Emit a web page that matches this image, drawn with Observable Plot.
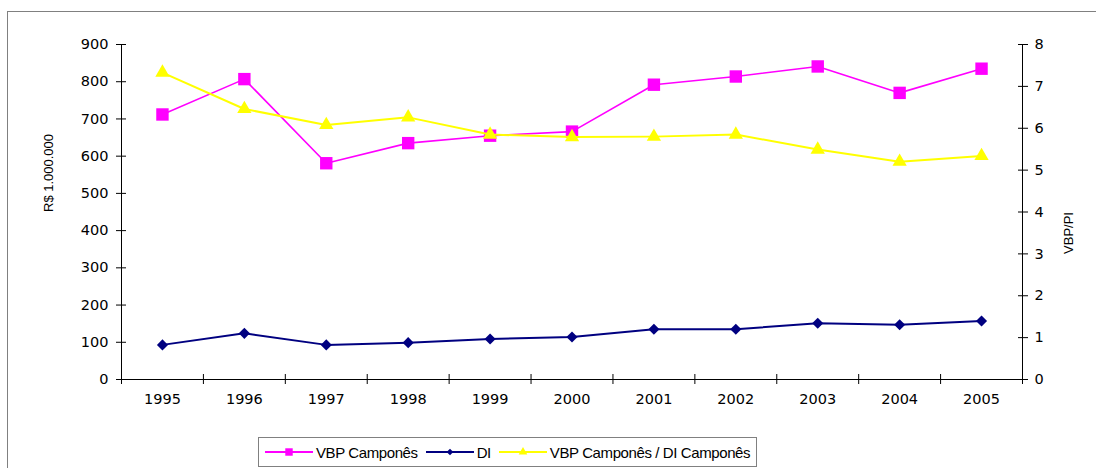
<!DOCTYPE html>
<html><head><meta charset="utf-8">
<script src="https://cdn.jsdelivr.net/npm/d3@7"></script>
<script src="https://cdn.jsdelivr.net/npm/@observablehq/plot@0.6"></script>
<style>
body{margin:0;background:#fff;overflow:hidden;font-family:"Liberation Sans",Arial,sans-serif;}
#frame{position:absolute;left:7px;top:11px;width:1200px;height:600px;border:1.5px solid #808080;}
#chart{position:absolute;left:0;top:0;width:1096px;height:425px;}
#chart svg{position:absolute;left:0;top:0;}
#legend{position:absolute;left:258px;top:437px;width:497px;height:28px;border:1.5px solid #808080;background:#fff;display:flex;align-items:center;font-size:15px;color:#000;letter-spacing:-0.4px;white-space:nowrap;}
#legend .item{display:flex;align-items:center;white-space:nowrap;flex:none;}
#legend svg{display:block;}
</style>
</head><body>
<div id="frame"></div>
<div id="chart"></div>
<div id="legend"></div>
<script>
const years = [1995, 1996, 1997, 1998, 1999, 2000, 2001, 2002, 2003, 2004, 2005];
const vbpCampones = [712, 807, 581, 635, 655, 666, 792, 814, 841, 770, 835];
const di = [93, 124, 93, 99, 109, 114, 135, 135, 151, 147, 157];
const ratio = [7.33, 6.46, 6.08, 6.26, 5.85, 5.79, 5.80, 5.85, 5.49, 5.20, 5.34];
const leftTicks = [0, 100, 200, 300, 400, 500, 600, 700, 800, 900];
const rightTicks = [0, 1, 2, 3, 4, 5, 6, 7, 8];
const leftLabel = "R$ 1.000.000";
const rightLabel = "VBP/PI";
const seriesNames = ["VBP Camponês", "DI", "VBP Camponês / DI Camponês"];
const colors = ["#FF00FF", "#000080", "#FFFF00"];

const rows = years.map((y, i) => ({year: y, vbp: vbpCampones[i], di: di[i], ratio: ratio[i]}));
const boundaries = years.map(y => y - 0.5).concat([years[years.length - 1] + 0.5]);
const xDomain = [boundaries[0], boundaries[boundaries.length - 1]];
const blank = () => "";
const tickFont = '"DejaVu Sans", sans-serif';

const W = 1096, H = 425;
const common = {
  width: W, height: H,
  marginTop: 44, marginBottom: 46, marginLeft: 121, marginRight: 74,
  style: {fontFamily: '"Liberation Sans", Arial, sans-serif', fontSize: "15px", color: "#000", background: "transparent", overflow: "visible"}
};

const p1 = Plot.plot({
  ...common,
  x: {domain: xDomain, label: null},
  y: {domain: [0, 900], label: null},
  marks: [
    Plot.ruleX([xDomain[0]], {stroke: "#000", strokeWidth: 1}),
    Plot.ruleY([0], {stroke: "#000", strokeWidth: 1}),
    Plot.axisY(leftTicks, {anchor: "left", tickSize: 10, dx: 5, tickFormat: blank, label: null, stroke: "#000"}),
    Plot.axisY(leftTicks, {anchor: "left", tickSize: 0, tickPadding: 13, label: null, fill: "#000", fontFamily: tickFont, fontSize: 14.5}),
    Plot.axisX(boundaries, {anchor: "bottom", tickSize: 10, dy: -5, tickFormat: blank, label: null, stroke: "#000"}),
    Plot.axisX(years, {anchor: "bottom", tickSize: 0, tickPadding: 14, tickFormat: d => String(d), label: null, fill: "#000", fontFamily: tickFont, fontSize: 14.5}),
    Plot.text([leftLabel], {frameAnchor: "left", rotate: -90, dx: -73, fontSize: 13, fill: "#000"}),
    Plot.line(rows, {x: "year", y: "vbp", stroke: colors[0], strokeWidth: 1.6}),
    Plot.dot(rows, {x: "year", y: "vbp", symbol: "square", r: 7, fill: colors[0], stroke: "none"}),
    Plot.line(rows, {x: "year", y: "di", stroke: colors[1], strokeWidth: 2}),
    Plot.dot(rows, {x: "year", y: "di", symbol: "diamond2", r: 5, fill: colors[1], stroke: "none"})
  ]
});

const p2 = Plot.plot({
  ...common,
  x: {domain: xDomain, label: null, axis: null},
  y: {domain: [0, 8], label: null},
  marks: [
    Plot.ruleX([xDomain[1]], {stroke: "#000", strokeWidth: 1}),
    Plot.axisY(rightTicks, {anchor: "right", tickSize: 10, dx: -5, tickFormat: blank, label: null, stroke: "#000"}),
    Plot.axisY(rightTicks, {anchor: "right", tickSize: 0, tickPadding: 12, label: null, fill: "#000", fontFamily: tickFont, fontSize: 14.5}),
    Plot.text([rightLabel], {frameAnchor: "right", rotate: -90, dx: 46, fontSize: 13, fill: "#000"}),
    Plot.line(rows, {x: "year", y: "ratio", stroke: colors[2], strokeWidth: 2}),
    Plot.dot(rows, {x: "year", y: "ratio", symbol: "triangle", r: 5.3, fill: colors[2], stroke: "none"})
  ]
});

const chart = document.getElementById("chart");
chart.appendChild(p1);
chart.appendChild(p2);

// Legend
const legend = document.getElementById("legend");
const symbols = ["square", "diamond2", "triangle"];
const symSize = [7, 5, 5.3];
seriesNames.forEach((name, i) => {
  const item = document.createElement("div");
  item.className = "item";
  item.style.marginLeft = i === 0 ? "6px" : "8px";
  const s = d3.create("svg").attr("width", 48).attr("height", 16);
  s.append("line").attr("x1", 0).attr("x2", 48).attr("y1", 8).attr("y2", 8).attr("stroke", colors[i]).attr("stroke-width", 2);
  const symMap = {square: d3.symbolSquare, diamond2: d3.symbolDiamond2, triangle: d3.symbolTriangle};
  s.append("path").attr("transform", "translate(24,8)").attr("fill", colors[i])
    .attr("d", d3.symbol(symMap[symbols[i]], Math.PI * (symSize[i] * 0.6) ** 2)());
  item.appendChild(s.node());
  const t = document.createElement("span");
  t.textContent = name;
  t.style.marginLeft = "3px";
  item.appendChild(t);
  legend.appendChild(item);
});
</script>
</body></html>
